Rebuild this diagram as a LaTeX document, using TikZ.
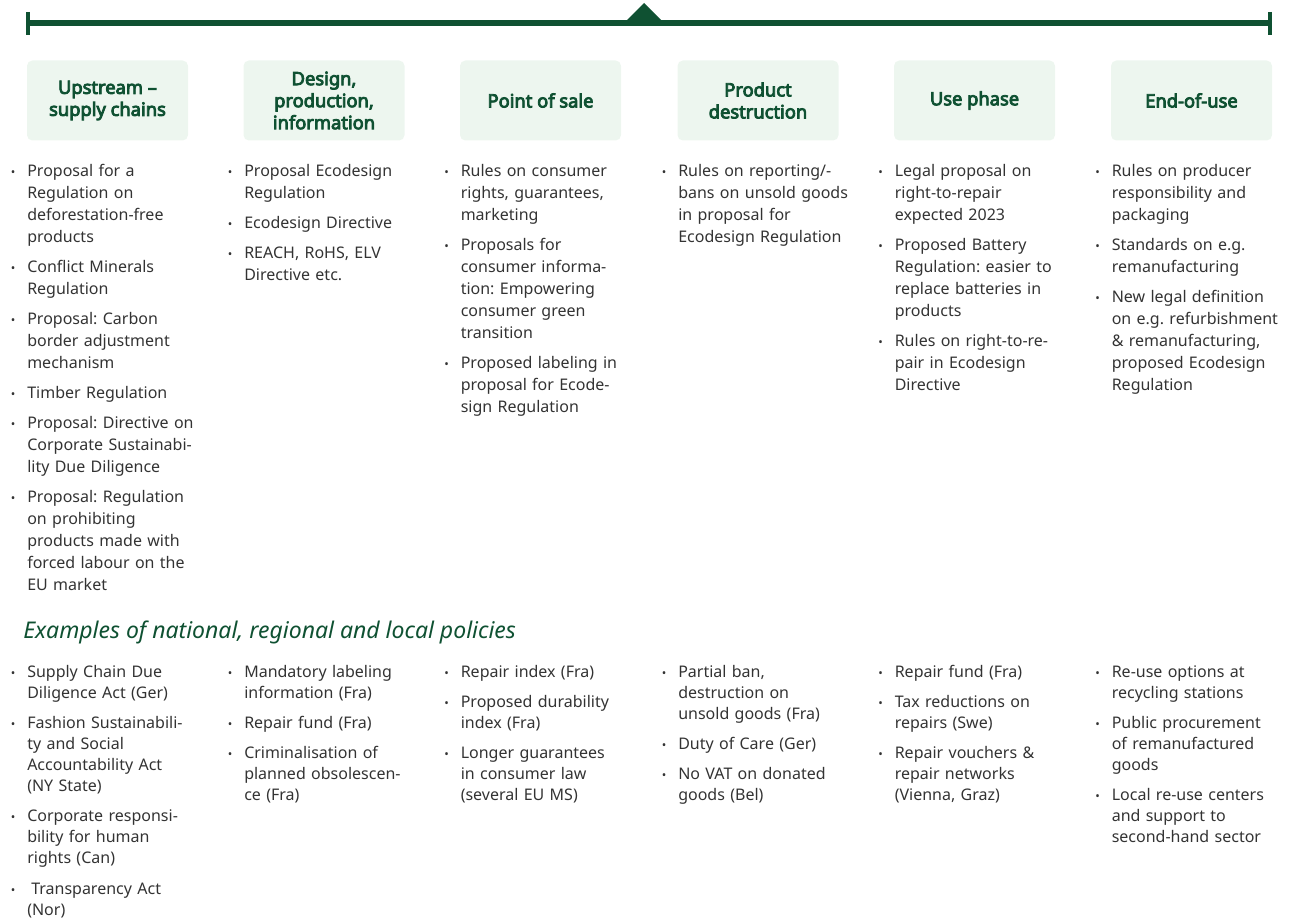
\documentclass[tikz,border=0pt]{standalone}
\usepackage{fontspec}
\setmainfont{Noto Sans}
\newfontfamily\phasefont{Noto Sans}[FakeBold=4.5]
\usepackage{enumitem}
\definecolor{eugreen}{HTML}{0F5132}
\definecolor{phasebg}{HTML}{EDF6EF}
\definecolor{bodytext}{HTML}{333333}
\frenchspacing
\newcommand{\bitems}[2][6pt]{\raggedright\frenchspacing\begin{itemize}[label={\small\textbullet}, leftmargin=12pt, labelsep=9pt, itemsep=#1, topsep=0pt, parsep=0pt, partopsep=0pt]#2\end{itemize}}

\begin{document}
\begin{tikzpicture}[x=0.75pt, y=-0.75pt, phase/.style={fill=phasebg, rounded corners=4pt, minimum width=120.75pt, minimum height=60pt, inner sep=0pt, align=center, text=eugreen, font=\fontsize{13.75}{16.5}\selectfont\phasefont}, toplist/.style={anchor=north west, inner sep=0pt, text width=165pt, text=bodytext, font=\fontsize{12}{16.5}\selectfont}, natlist/.style={toplist, font=\fontsize{12}{15.75}\selectfont}]
	\useasboundingbox (0,0) rectangle (1308,919);
	% timeline
	\coordinate (tl) at (28,23);
	\coordinate (tr) at (1270,23);
	\draw[eugreen, line width=4.5pt] (tl) -- (tr);
	\draw[eugreen, line width=3pt] (28,12) -- (28,35);
	\draw[eugreen, line width=3pt] (1270,12) -- (1270,35);
	\fill[eugreen] (627,20) -- (644,3) -- (661,20) -- cycle;
	% phases
	\node[phase] (up) at (107.5,100.5) {Upstream –\\supply chains};
	\node[phase] (design) at (324,100.5) {Design,\\production,\\information};
	\node[phase] (sale) at (540.5,100.5) {Point of sale};
	\node[phase] (destr) at (758,100.5) {Product\\destruction};
	\node[phase] (use) at (974.5,100.5) {Use phase};
	\node[phase] (eou) at (1191.5,100.5) {End-of-use};
	% EU level
	\node[toplist] (lup) at (11,154) {\bitems{
		\item Proposal for a\\Regulation on\\deforestation-free\\products
		\item Conflict Minerals\\Regulation
		\item Proposal: Carbon\\border adjustment\\mechanism
		\item Timber Regulation
		\item Proposal: Directive on\\Corporate Sustainabi-\\lity Due Diligence
		\item Proposal: Regulation\\on prohibiting\\products made with\\forced labour on the\\EU market}};
	\node[toplist] (ldesign) at (228,154) {\bitems{
		\item Proposal Ecodesign\\Regulation
		\item Ecodesign Directive
		\item REACH, RoHS, ELV\\Directive etc.}};
	\node[toplist] (lsale) at (444.5,154) {\bitems{
		\item Rules on consumer\\rights, guarantees,\\marketing
		\item Proposals for\\consumer informa-\\tion: Empowering\\consumer green\\transition
		\item Proposed labeling in\\proposal for Ecode-\\sign Regulation}};
	\node[toplist] (ldestr) at (662,154) {\bitems{
		\item Rules on reporting/-\\bans on unsold goods\\in proposal for\\Ecodesign Regulation}};
	\node[toplist] (luse) at (878.5,154) {\bitems{
		\item Legal proposal on\\right-to-repair\\expected 2023
		\item Proposed Battery\\Regulation: easier to\\replace batteries in\\products
		\item Rules on right-to-re-\\pair in Ecodesign\\Directive}};
	\node[toplist] (leou) at (1095.5,154) {\bitems{
		\item Rules on producer\\responsibility and\\packaging
		\item Standards on e.g.\\remanufacturing
		\item New legal definition\\on e.g. refurbishment\\\& remanufacturing,\\proposed Ecodesign\\Regulation}};
	% national, regional, local
	\node[anchor=west, inner sep=0pt, text=eugreen, font=\fontsize{17.25}{20}\selectfont\itshape] (natitle) at (23,632) {Examples of national, regional and local policies};
	\node[natlist] (nup) at (11,656) {\bitems[7pt]{
		\item Supply Chain Due\\Diligence Act (Ger)
		\item Fashion Sustainabili-\\ty and Social\\Accountability Act\\(NY State)
		\item Corporate responsi-\\bility for human\\rights (Can)
		\item \hspace{3pt}Transparency Act\\(Nor)}};
	\node[natlist] (ndesign) at (228,656) {\bitems[7pt]{
		\item Mandatory labeling\\information (Fra)
		\item Repair fund (Fra)
		\item Criminalisation of\\planned obsolescen-\\ce (Fra)}};
	\node[natlist] (nsale) at (444.5,656) {\bitems[7pt]{
		\item Repair index (Fra)
		\item Proposed durability\\index (Fra)
		\item Longer guarantees\\in consumer law\\(several EU MS)}};
	\node[natlist] (ndestr) at (662,656) {\bitems[7pt]{
		\item Partial ban,\\destruction on\\unsold goods (Fra)
		\item Duty of Care (Ger)
		\item No VAT on donated\\goods (Bel)}};
	\node[natlist] (nuse) at (878.5,656) {\bitems[7pt]{
		\item Repair fund (Fra)
		\item Tax reductions on\\repairs (Swe)
		\item Repair vouchers \&\\repair networks\\(Vienna, Graz)}};
	\node[natlist] (neou) at (1095.5,656) {\bitems[7pt]{
		\item Re-use options at\\recycling stations
		\item Public procurement\\of remanufactured\\goods
		\item Local re-use centers\\and support to\\second-hand sector}};
\end{tikzpicture}
\end{document}
